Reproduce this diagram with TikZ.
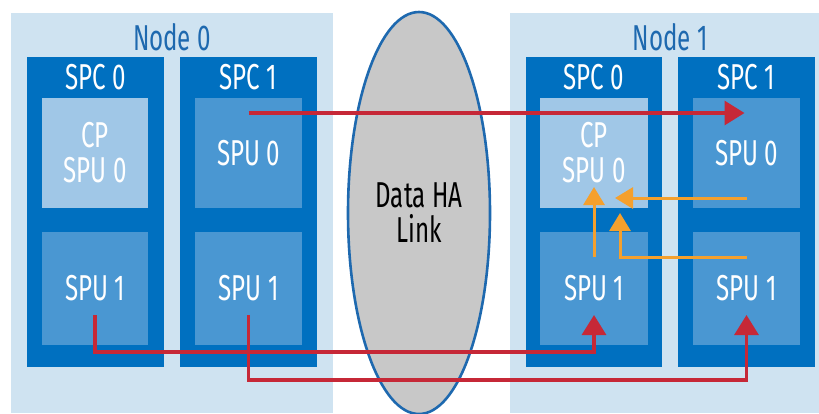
\documentclass[tikz,border=0pt]{standalone}
\usepackage{fontspec}
\setmainfont{Fira Sans}[FakeStretch=0.67]
\usetikzlibrary{fit,calc,shapes.geometric,arrows.meta}

\definecolor{nodebgblue}{RGB}{207,227,241}
\definecolor{spcblue}{RGB}{0,112,192}
\definecolor{spublue}{RGB}{74,151,210}
\definecolor{cpblue}{RGB}{160,199,231}
\definecolor{titleblue}{RGB}{30,105,175}
\definecolor{linkgray}{RGB}{200,200,200}
\definecolor{hared}{RGB}{198,40,55}
\definecolor{haorange}{RGB}{245,160,45}

\begin{document}
\begin{tikzpicture}[x=0.5pt, y=-0.5pt,
  nodebg/.style={fill=nodebgblue, inner sep=0pt},
  spcbox/.style={fill=spcblue, inner sep=0pt},
  cpbox/.style={fill=cpblue, inner sep=0pt},
  spubox/.style={fill=spublue, inner sep=0pt},
  boxtext/.style={text=white, align=center, inner sep=0pt,
                  font=\fontsize{18}{16.5}\selectfont},
  titletext/.style={text=titleblue, inner sep=0pt, font=\fontsize{18}{18}\selectfont},
  linkoval/.style={ellipse, draw=titleblue, line width=1.3pt, fill=linkgray,
                   minimum width=71pt, minimum height=201pt, inner sep=0pt,
                   align=center, font=\fontsize{18}{17.5}\selectfont},
  redlink/.style={draw=hared, line width=1.6pt, -{Triangle[width=12pt,length=10pt,fill=hared]}},
  orangelink/.style={draw=haorange, line width=1.5pt, -{Triangle[width=10.5pt,length=9pt,fill=haorange]}},
]
\useasboundingbox (0,0) rectangle (819,413);

% Node backgrounds
\node[nodebg, fit={(11,13) (333,413)}] (node0) {};
\node[nodebg, fit={(510,13) (819,413)}] (node1) {};

% SPC cards
\node[spcbox, fit={(27,57) (164,367)}] (n0c0) {};
\node[spcbox, fit={(180,57) (317,367)}] (n0c1) {};
\node[spcbox, fit={(526,57) (662,367)}] (n1c0) {};
\node[spcbox, fit={(678,57) (815,367)}] (n1c1) {};

% SPUs (CP on SPC 0)
\node[cpbox, fit={(42,98) (148,208)}] (n0c0u0) {};
\node[spubox, fit={(42,232) (148,345)}] (n0c0u1) {};
\node[spubox, fit={(195,98) (302,208)}] (n0c1u0) {};
\node[spubox, fit={(195,232) (302,345)}] (n0c1u1) {};
\node[cpbox, fit={(540,98) (648,208)}] (n1c0u0) {};
\node[spubox, fit={(540,232) (648,345)}] (n1c0u1) {};
\node[spubox, fit={(693,98) (800,208)}] (n1c1u0) {};
\node[spubox, fit={(693,232) (800,345)}] (n1c1u1) {};

% Labels
\coordinate (titleY) at (0,37);
\coordinate (spcY) at (0,77);
\coordinate (node0mid) at ($(n0c0.north)!0.5!(n0c1.north)$);
\coordinate (node1mid) at ($(n1c0.north)!0.5!(n1c1.north)$);
\node[titletext] (node0lbl) at (node0mid |- titleY) {Node 0};
\node[titletext] (node1lbl) at (node1mid |- titleY) {Node 1};
\node[boxtext] (n0c0lbl) at (n0c0 |- spcY) {SPC 0};
\node[boxtext] (n0c1lbl) at (n0c1 |- spcY) {SPC 1};
\node[boxtext] (n1c0lbl) at (n1c0 |- spcY) {SPC 0};
\node[boxtext] (n1c1lbl) at (n1c1 |- spcY) {SPC 1};
\node[boxtext] (n0c0u0lbl) at (n0c0u0) {CP\\[1pt]SPU 0};
\node[boxtext] (n0c0u1lbl) at (n0c0u1) {SPU 1};
\node[boxtext] (n0c1u0lbl) at (n0c1u0) {SPU 0};
\node[boxtext] (n0c1u1lbl) at (n0c1u1) {SPU 1};
\node[boxtext] (n1c0u0lbl) at (n1c0u0) {CP\\[1pt]SPU 0};
\node[boxtext] (n1c0u1lbl) at (n1c0u1) {SPU 1};
\node[boxtext] (n1c1u0lbl) at (n1c1u0) {SPU 0};
\node[boxtext] (n1c1u1lbl) at (n1c1u1) {SPU 1};

% Data HA link
\node[linkoval] (halink) at (419,213) {Data HA\\Link};

% Red data paths between nodes
\coordinate (topY) at (0,113);
\coordinate (srcY) at (0,315);
\coordinate (busA) at (0,352);
\coordinate (busB) at (0,380);
\draw[redlink] (n0c1u0 |- topY) -- ([xshift=-1pt]n1c1u0 |- topY);
\draw[redlink] (n0c0u1 |- srcY) -- (n0c0u1 |- busA) -- (n1c0u1 |- busA) -- (n1c0u1 |- srcY);
\draw[redlink] (n0c1u1 |- srcY) -- (n0c1u1 |- busB) -- (n1c1u1 |- busB) -- (n1c1u1 |- srcY);

% Orange paths to the CP
\coordinate (midY) at (0,198);
\coordinate (lowY) at (0,257);
\coordinate (cpTipA) at (594,187);
\coordinate (cpTipB) at (615,198);
\coordinate (cpTipC) at (620,213);
\draw[orangelink] (n1c0u1 |- lowY) -- (cpTipA);
\draw[orangelink] (n1c1u0 |- midY) -- (cpTipB);
\draw[orangelink] (n1c1u1 |- lowY) -- (cpTipC |- lowY) -- (cpTipC);

\end{tikzpicture}
\end{document}
